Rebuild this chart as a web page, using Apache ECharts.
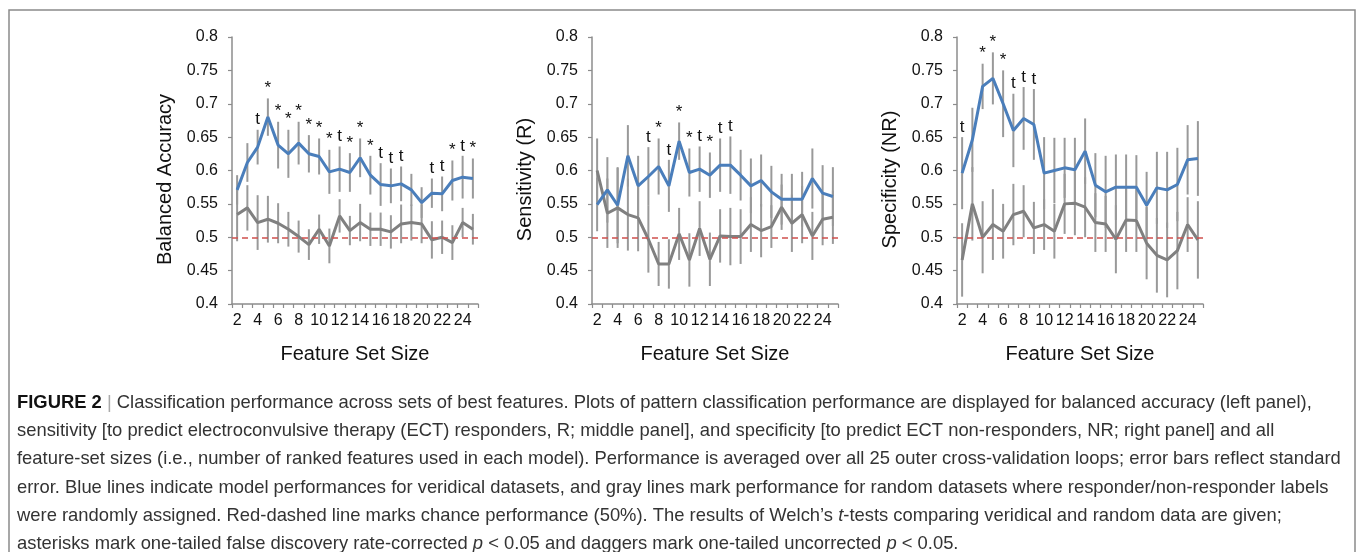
<!DOCTYPE html>
<html lang="en">
<head>
<meta charset="UTF-8">
<title>Figure 2</title>
<script src="https://cdn.jsdelivr.net/npm/echarts@6/dist/echarts.min.js"></script>
<style>
  html, body { margin: 0; padding: 0; background: #fff; }
  #main { width: 1358px; height: 552px; }
</style>
</head>
<body>
<div id="main"></div>
<script>
// feature set sizes (x categories)
var sizes = [2, 3, 4, 5, 6, 7, 8, 9, 10, 11, 12, 13, 14, 15, 16, 17, 18, 19, 20, 21, 22, 23, 24, 25];

// balanced accuracy
var accReal    = [0.571, 0.612, 0.635, 0.680, 0.638, 0.625, 0.641, 0.625, 0.621, 0.598, 0.602, 0.597, 0.619, 0.593, 0.579, 0.577, 0.580, 0.571, 0.552, 0.566, 0.565, 0.585, 0.590, 0.588];
var accRealErr = [0.022, 0.029, 0.026, 0.028, 0.035, 0.036, 0.032, 0.028, 0.027, 0.033, 0.034, 0.029, 0.029, 0.029, 0.032, 0.026, 0.026, 0.024, 0.023, 0.022, 0.026, 0.030, 0.032, 0.030];
var accRand    = [0.534, 0.544, 0.522, 0.527, 0.521, 0.512, 0.501, 0.489, 0.512, 0.487, 0.532, 0.510, 0.522, 0.512, 0.512, 0.508, 0.520, 0.522, 0.520, 0.496, 0.500, 0.492, 0.522, 0.512];
var accRandErr = [0.040, 0.034, 0.041, 0.035, 0.030, 0.026, 0.024, 0.023, 0.022, 0.026, 0.025, 0.022, 0.028, 0.025, 0.025, 0.025, 0.029, 0.027, 0.029, 0.028, 0.025, 0.026, 0.022, 0.023];
var accMarks   = ['', '', 't', '*', '*', '*', '*', '*', '*', '*', 't', '*', '*', '*', 't', 't', 't', '', '', 't', 't', '*', 't', '*'];

// sensitivity (R)
var senReal    = [0.549, 0.571, 0.548, 0.622, 0.577, 0.591, 0.606, 0.577, 0.644, 0.597, 0.602, 0.593, 0.608, 0.608, 0.593, 0.577, 0.585, 0.568, 0.557, 0.557, 0.557, 0.588, 0.566, 0.561];
var senRealErr = [0.040, 0.049, 0.057, 0.046, 0.045, 0.044, 0.042, 0.039, 0.028, 0.036, 0.034, 0.034, 0.040, 0.043, 0.038, 0.041, 0.039, 0.039, 0.038, 0.038, 0.041, 0.045, 0.042, 0.044];
var senRand    = [0.600, 0.536, 0.544, 0.534, 0.529, 0.497, 0.460, 0.460, 0.505, 0.466, 0.513, 0.467, 0.502, 0.501, 0.501, 0.519, 0.510, 0.516, 0.545, 0.521, 0.534, 0.502, 0.527, 0.530];
var senRandErr = [0.048, 0.052, 0.060, 0.054, 0.050, 0.050, 0.033, 0.037, 0.039, 0.040, 0.041, 0.040, 0.040, 0.043, 0.041, 0.041, 0.040, 0.032, 0.034, 0.043, 0.043, 0.036, 0.039, 0.040];
var senMarks   = ['', '', '', '', '', 't', '*', 't', '*', '*', 't', '*', 't', 't', '', '', '', '', '', '', '', '', '', ''];

// specificity (NR)
var speReal    = [0.596, 0.646, 0.726, 0.738, 0.700, 0.660, 0.678, 0.669, 0.596, 0.600, 0.604, 0.601, 0.629, 0.578, 0.568, 0.575, 0.575, 0.575, 0.548, 0.574, 0.571, 0.579, 0.616, 0.618];
var speRealErr = [0.054, 0.048, 0.034, 0.039, 0.050, 0.055, 0.047, 0.053, 0.054, 0.049, 0.045, 0.048, 0.049, 0.048, 0.054, 0.049, 0.049, 0.048, 0.050, 0.054, 0.057, 0.055, 0.052, 0.056];
var speRand    = [0.466, 0.550, 0.500, 0.519, 0.509, 0.534, 0.539, 0.514, 0.519, 0.509, 0.550, 0.551, 0.545, 0.522, 0.520, 0.497, 0.526, 0.525, 0.491, 0.473, 0.466, 0.480, 0.519, 0.496];
var speRandErr = [0.055, 0.055, 0.054, 0.053, 0.041, 0.046, 0.039, 0.039, 0.038, 0.041, 0.045, 0.048, 0.045, 0.044, 0.042, 0.051, 0.048, 0.047, 0.054, 0.056, 0.056, 0.058, 0.041, 0.058];
var speMarks   = ['t', '', '*', '*', '*', 't', 't', 't', '', '', '', '', '', '', '', '', '', '', '', '', '', '', '', ''];

var yTitles = ['Balanced Accuracy', 'Sensitivity (R)', 'Specificity (NR)'];

var captionLines = [
  '{b|FIGURE 2} {s||} Classification performance across sets of best features. Plots of pattern classification performance are displayed for balanced accuracy (left panel),',
  'sensitivity [to predict electroconvulsive therapy (ECT) responders, R; middle panel], and specificity [to predict ECT non-responders, NR; right panel] and all',
  'feature-set sizes (i.e., number of ranked features used in each model). Performance is averaged over all 25 outer cross-validation loops; error bars reflect standard',
  'error. Blue lines indicate model performances for veridical datasets, and gray lines mark performance for random datasets where responder/non-responder labels',
  'were randomly assigned. Red-dashed line marks chance performance (50%). The results of Welch\u2019s {i|t}-tests comparing veridical and random data are given;',
  'asterisks mark one-tailed false discovery rate-corrected {i|p} < 0.05 and daggers mark one-tailed uncorrected {i|p} < 0.05.'
];

var panels = [
  { real: accReal, realErr: accRealErr, rand: accRand, randErr: accRandErr, marks: accMarks },
  { real: senReal, realErr: senRealErr, rand: senRand, randErr: senRandErr, marks: senMarks },
  { real: speReal, realErr: speRealErr, rand: speRand, randErr: speRandErr, marks: speMarks }
];

var FONT = '"Liberation Sans", Arial, Helvetica, sans-serif';
var BLUE = '#4a7ebb';
var GRAY = '#808080';
var BAR = '#999999';
var AXIS = '#8c8c8c';
var CAP = 18.4;
var gridLefts = [232, 592, 957];

var myChart = echarts.init(document.getElementById('main'));

function errSeries(idx, vals, errs) {
  return {
    type: 'custom',
    xAxisIndex: idx,
    yAxisIndex: idx,
    silent: true,
    z: 1,
    data: vals.map(function (v, i) { return [i, v - errs[i], v + errs[i]]; }),
    renderItem: function (params, api) {
      var lo = api.coord([api.value(0), api.value(1)]);
      var hi = api.coord([api.value(0), api.value(2)]);
      return {
        type: 'line',
        shape: { x1: lo[0], y1: lo[1], x2: hi[0], y2: hi[1] },
        style: { stroke: BAR, lineWidth: 2 }
      };
    }
  };
}

var grid = [], xAxis = [], yAxis = [], series = [];

panels.forEach(function (p, k) {
  grid.push({ left: gridLefts[k], top: 37, width: 246, height: 267 });

  xAxis.push({
    type: 'category',
    gridIndex: k,
    data: sizes,
    boundaryGap: true,
    name: 'Feature Set Size',
    nameLocation: 'middle',
    nameGap: 40,
    nameTextStyle: { fontFamily: FONT, fontSize: 20, color: '#111' },
    axisLine: { lineStyle: { color: AXIS, width: 1.5 } },
    axisTick: { show: true, interval: 0, length: 4, lineStyle: { color: AXIS, width: 1.2 } },
    axisLabel: { interval: 1, fontFamily: FONT, fontSize: 16, color: '#111', margin: 9 },
    splitLine: { show: false }
  });

  yAxis.push({
    type: 'value',
    gridIndex: k,
    min: 0.4,
    max: 0.8,
    interval: 0.05,
    name: yTitles[k],
    nameLocation: 'middle',
    nameGap: 57,
    nameTextStyle: { fontFamily: FONT, fontSize: 20, color: '#111', padding: [0, 18, 0, 0] },
    axisLine: { show: true, lineStyle: { color: AXIS, width: 1.5 } },
    axisTick: { show: true, length: 4, lineStyle: { color: AXIS, width: 1.2 } },
    axisLabel: { fontFamily: FONT, fontSize: 16, color: '#111', margin: 14 },
    splitLine: { show: false }
  });

  series.push(errSeries(k, p.rand, p.randErr));
  series.push(errSeries(k, p.real, p.realErr));

  // chance level
  series.push({
    type: 'line',
    xAxisIndex: k,
    yAxisIndex: k,
    data: [],
    z: 2,
    markLine: {
      silent: true,
      symbol: 'none',
      label: { show: false },
      lineStyle: { color: '#d0504d', type: [6, 4], width: 1.5 },
      data: [{ yAxis: 0.5 }]
    }
  });

  series.push({
    type: 'line',
    xAxisIndex: k,
    yAxisIndex: k,
    data: p.rand,
    symbol: 'none',
    z: 3,
    lineStyle: { color: GRAY, width: 3 },
    itemStyle: { color: GRAY }
  });

  series.push({
    type: 'line',
    xAxisIndex: k,
    yAxisIndex: k,
    data: p.real,
    symbol: 'none',
    z: 4,
    lineStyle: { color: BLUE, width: 3 },
    itemStyle: { color: BLUE }
  });

  var markData = [];
  p.marks.forEach(function (m, i) {
    if (m) markData.push({ name: m, value: [i, p.real[i] + p.realErr[i]] });
  });
  series.push({
    type: 'scatter',
    xAxisIndex: k,
    yAxisIndex: k,
    data: markData,
    symbolSize: 1,
    itemStyle: { color: 'rgba(0,0,0,0)' },
    silent: true,
    z: 5,
    label: {
      show: true,
      position: 'top',
      distance: 1,
      formatter: '{b}',
      fontFamily: FONT,
      fontSize: 17,
      color: '#111',
      opacity: 1
    }
  });
});

var graphic = [{
  type: 'rect',
  silent: true,
  shape: { x: 9, y: 10, width: 1346, height: 700 },
  style: { fill: 'none', stroke: '#8a8a8a', lineWidth: 1.5 }
}];

captionLines.forEach(function (line, i) {
  graphic.push({
    type: 'text',
    silent: true,
    x: 17,
    y: 403 + i * 28.2,
    style: {
      text: line,
      font: CAP + 'px ' + FONT,
      fill: '#333',
      verticalAlign: 'middle',
      rich: {
        b: { fontWeight: 'bold', fontSize: CAP, fontFamily: FONT, fill: '#111' },
        s: { fontSize: CAP, fontFamily: FONT, fill: '#aaa' },
        i: { fontStyle: 'italic', fontSize: CAP, fontFamily: FONT, fill: '#333' }
      }
    }
  });
});

var option = {
  backgroundColor: '#fff',
  animation: false,
  grid: grid,
  xAxis: xAxis,
  yAxis: yAxis,
  series: series,
  graphic: graphic
};

myChart.setOption(option);
</script>
</body>
</html>
